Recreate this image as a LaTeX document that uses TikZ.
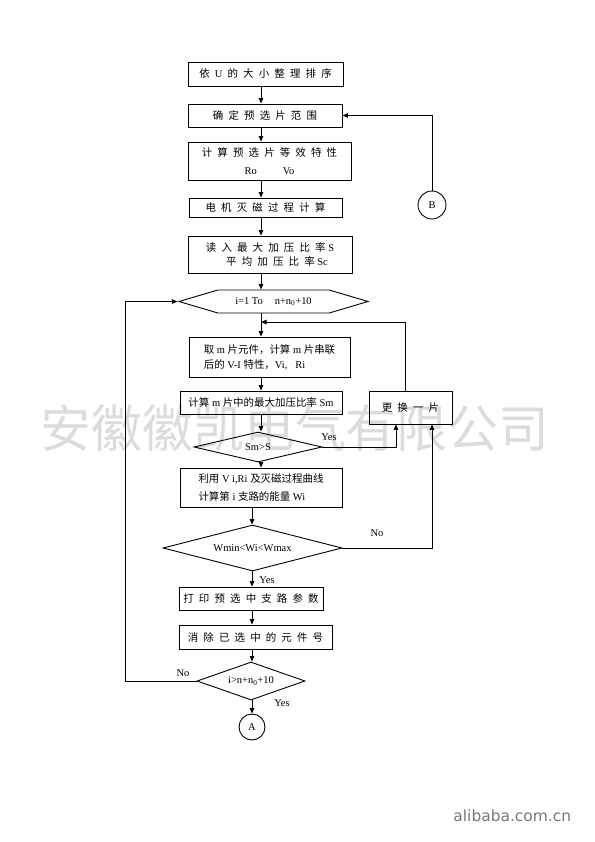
\documentclass[tikz,border=0pt]{standalone}
\usepackage{fontspec}
\setmainfont{Liberation Serif}
\newfontfamily\cjk{Noto Sans CJK SC}[WordSpace=2.2]
\newfontfamily\webfont{DejaVu Sans}
\newcommand\zh[1]{{\cjk #1}}
\usetikzlibrary{arrows.meta,shapes.geometric,shapes.symbols}

\begin{document}
\begin{tikzpicture}[x=1bp,y=-1bp,every node/.style={font=\fontsize{10.5}{15}\selectfont,inner sep=0},>={Triangle[length=5.5bp,width=4.5bp]},
  stepbox/.style={draw,line width=0.9bp,align=center},
  testbox/.style={draw,line width=0.9bp,shape=diamond,aspect=#1},
  loopbox/.style={draw,line width=0.9bp,shape=signal,signal to=west and east,signal pointer angle=33},
  joint/.style={draw,line width=0.9bp,shape=circle,minimum size=#1},
  every path/.style={line width=0.9bp}]
\path[use as bounding box] (0,0) rectangle (595,842);
\definecolor{mark}{HTML}{DCDCDC}
\definecolor{site}{HTML}{777777}
% watermark and site name
\node[font=\fontsize{51}{51}\selectfont\cjk,text=mark] (wm) at (295,428) {安徽徽凯电气有限公司};
\node[anchor=base west,font=\fontsize{15.5}{16}\webfont,text=site] (site) at (453,821) {alibaba.com.cn};
% main column
\node[stepbox,minimum width=155bp,minimum height=24bp] (b1) at (265.5,74) {\zh{依 }U\zh{ 的 大 小 整 理 排 序}};
\node[stepbox,minimum width=154bp,minimum height=23bp] (b2) at (265,115.5) {\zh{确 定 预 选 片 范 围}};
\node[stepbox,minimum width=163bp,minimum height=38bp] (b3) at (269.5,161) {\zh{计 算 预 选 片 等 效 特 性}\\[3bp]Ro\hspace{26bp}Vo};
\node[stepbox,minimum width=153bp,minimum height=19bp] (b4) at (265.5,207.5) {\zh{电 机 灭 磁 过 程 计 算}};
\node[stepbox,minimum width=164bp,minimum height=37bp] (b5) at (270,254.5) {\zh{读 入 最 大 加 压 比 率} S\\\hspace{14bp}\zh{平 均 加 压 比 率} Sc};
\node[loopbox,minimum width=189bp,minimum height=23bp] (hex) at (273.5,301.5) {i=1 To\hspace{12bp}n+n\textsubscript{0}+10\hspace{28bp}};
\node[stepbox,align=left,minimum width=161bp,minimum height=40bp] (b6) at (269.5,357) {\zh{取} m \zh{片元件，计算} m \zh{片串联}\\\zh{后的} V-I \zh{特性，}Vi,\hspace{8bp}Ri};
\node[stepbox,minimum width=162bp,minimum height=23bp] (b7) at (261,402.5) {\zh{计算} m \zh{片中的最大加压比率} Sm};
\node[stepbox,minimum width=83bp,minimum height=33bp] (bx) at (410.5,407.5) {\zh{更 换 一 片}};
\node[testbox=4.3,minimum width=128bp,minimum height=30bp] (d1) at (258,447) {Sm>S};
\node[stepbox,align=left,minimum width=162bp,minimum height=39bp] (b8) at (261,487.5) {\zh{利用} V i,Ri \zh{及灭磁过程曲线}\\[3bp]\zh{计算第} i \zh{支路的能量} Wi};
\node[testbox=3.9,minimum width=179bp,minimum height=46bp] (d2) at (252.5,548) {Wmin<Wi<Wmax};
\node[stepbox,minimum width=144bp,minimum height=23bp] (b9) at (251,598.5) {\zh{打 印 预 选 中 支 路 参 数}};
\node[stepbox,minimum width=153bp,minimum height=24bp] (b10) at (255.5,637) {\zh{消 除 已 选 中 的 元 件 号}};
\node[testbox=2.8,minimum width=108bp,minimum height=38bp] (d3) at (251,681) {i>n+n\textsubscript{0}+10};
\node[joint=26bp] (A) at (252,727) {A};
\node[joint=28bp] (B) at (432,205) {B};
% branch labels
\node (yes1) at (329,437) {Yes};
\node (no1) at (377,533) {No};
\node (yes2) at (267,580) {Yes};
\node (no2) at (183,673) {No};
\node (yes3) at (282,703) {Yes};
% connectors
\coordinate (colA) at (261,0);
\coordinate (colB) at (252,0);
\coordinate (j1) at (261,322);
\coordinate (lp) at (125,0);
\foreach \a/\b in {b1/b2,b2/b3,b3/b4,b4/b5,b5/hex,hex/b6,b6/b7,b7/d1,d1/b8}{\draw[->] (\a.south -| colA) -- (\b.north -| colA);}
\foreach \a/\b in {b8/d2,d2/b9,b9/b10,b10/d3,d3/A}{\draw[->] (\a.south -| colB) -- (\b.north -| colB);}
\draw[->] ([xshift=-5.5bp]bx.north) |- (j1);
\draw[->] (d1.east) -| ([xshift=-14.5bp]bx.south);
\draw[->] (d2.east) -| ([xshift=21.5bp]bx.south);
\draw[->] (B.north) |- (b2.east);
\draw[->] (d3.west) -- (d3.west -| lp) |- (hex.west);
\end{tikzpicture}
\end{document}
